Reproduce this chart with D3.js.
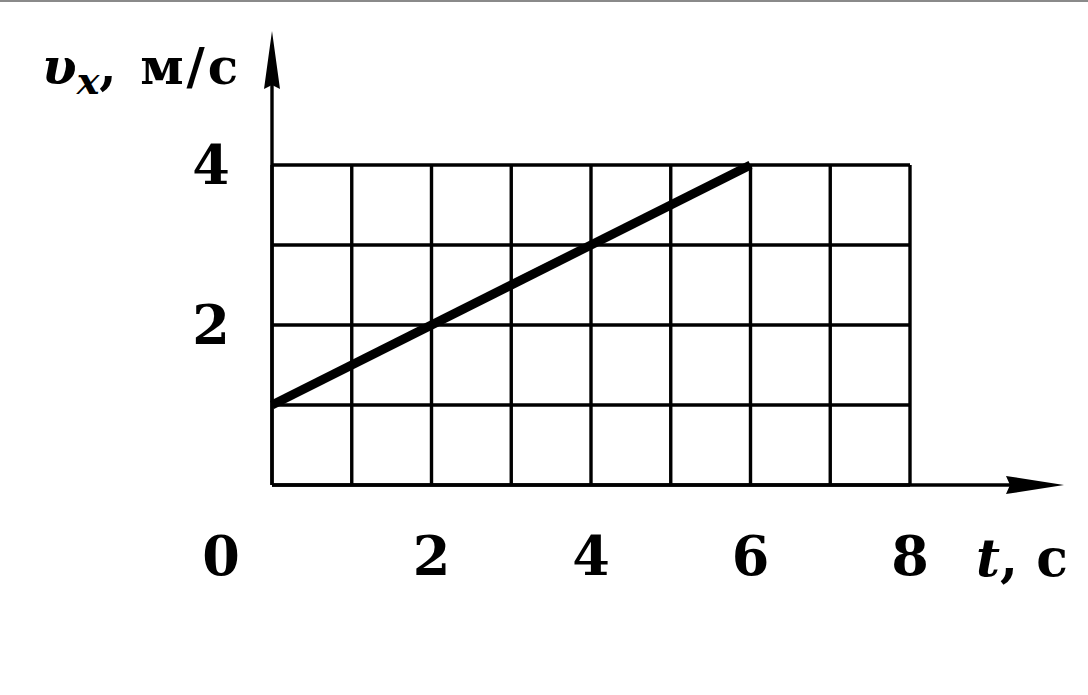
<!DOCTYPE html>
<html lang="ru">
<head>
<meta charset="utf-8">
<script src="https://d3js.org/d3.v7.min.js"></script>
<style>
  body { margin: 0; background: #fff; }
  svg { display: block; }
  text { font-family: "DejaVu Serif", serif; fill: #000; }
</style>
</head>
<body>
<script>
// data
const tDomain = [0, 8];          // time, s
const vDomain = [0, 4];          // velocity, m/s
const tLabels = [0, 2, 4, 6, 8];
const vLabels = [2, 4];
const tPoints = [0, 6];
const vPoints = [1, 4];

const width = 1088, height = 695;

const svg = d3.select('body').append('svg')
    .attr('width', width).attr('height', height);

const x = d3.scaleLinear().domain(tDomain).range([272, 910]);
const y = d3.scaleLinear().domain(vDomain).range([485, 165]);

// thin grey rule at top of the scan
svg.append('rect').attr('x', 0).attr('y', 0).attr('width', width).attr('height', 2).attr('fill', '#8a8a8a');

const g = svg.append('g');

// grid
g.selectAll('.vgrid').data(x.ticks(8)).enter().append('line')
    .attr('x1', d => x(d)).attr('x2', d => x(d))
    .attr('y1', y(vDomain[0])).attr('y2', y(vDomain[1]))
    .attr('stroke', '#000').attr('stroke-width', 3.4);

g.selectAll('.hgrid').data(y.ticks(4)).enter().append('line')
    .attr('x1', x(tDomain[0])).attr('x2', x(tDomain[1]))
    .attr('y1', d => y(d)).attr('y2', d => y(d))
    .attr('stroke', '#000').attr('stroke-width', 3.4);

// axes with arrows
const x0 = x(0), y0 = y(0);
g.append('line').attr('x1', x0).attr('x2', 1010).attr('y1', y0).attr('y2', y0)
    .attr('stroke', '#000').attr('stroke-width', 3.4);
g.append('path').attr('d', `M1064,${y0} L1006,${y0 - 9} L1010,${y0} L1006,${y0 + 9} Z`).attr('fill', '#000');

g.append('line').attr('x1', x0).attr('x2', x0).attr('y1', y0).attr('y2', 84)
    .attr('stroke', '#000').attr('stroke-width', 3.4);
g.append('path').attr('d', `M${x0},31 L${x0 - 8},89 L${x0},85 L${x0 + 8},89 Z`).attr('fill', '#000');

// the graph line
const line = d3.line().x(d => x(d[0])).y(d => y(d[1]));
g.append('path').datum(d3.zip(tPoints, vPoints))
    .attr('d', line).attr('fill', 'none')
    .attr('stroke', '#000').attr('stroke-width', 9);

// tick labels
g.selectAll('.tlab').data(tLabels).enter().append('text')
    .attr('x', d => d === 0 ? x(d) - 51 : x(d))
    .attr('y', 575)
    .attr('text-anchor', 'middle')
    .attr('font-size', 54).attr('font-weight', 'bold')
    .text(d => d);

g.selectAll('.vlab').data(vLabels).enter().append('text')
    .attr('x', 211)
    .attr('y', d => y(d) + 19)
    .attr('text-anchor', 'middle')
    .attr('font-size', 54).attr('font-weight', 'bold')
    .text(d => d);

// axis titles
const yt = svg.append('text').attr('x', 42).attr('y', 84).attr('font-size', 50);
yt.append('tspan').attr('font-style', 'italic').attr('font-weight', 'bold').text('υ');
yt.append('tspan').attr('font-style', 'italic').attr('font-weight', 'bold')
    .attr('font-size', 38).attr('dy', 10).text('x');
yt.append('tspan').attr('font-weight', 'bold').attr('dy', -10)
    .attr('letter-spacing', 3).text(', м/с');

const xt = svg.append('text').attr('x', 976).attr('y', 576).attr('font-size', 52);
xt.append('tspan').attr('font-style', 'italic').attr('font-weight', 'bold').text('t');
xt.append('tspan').attr('font-weight', 'bold').text(', с');
</script>
</body>
</html>
